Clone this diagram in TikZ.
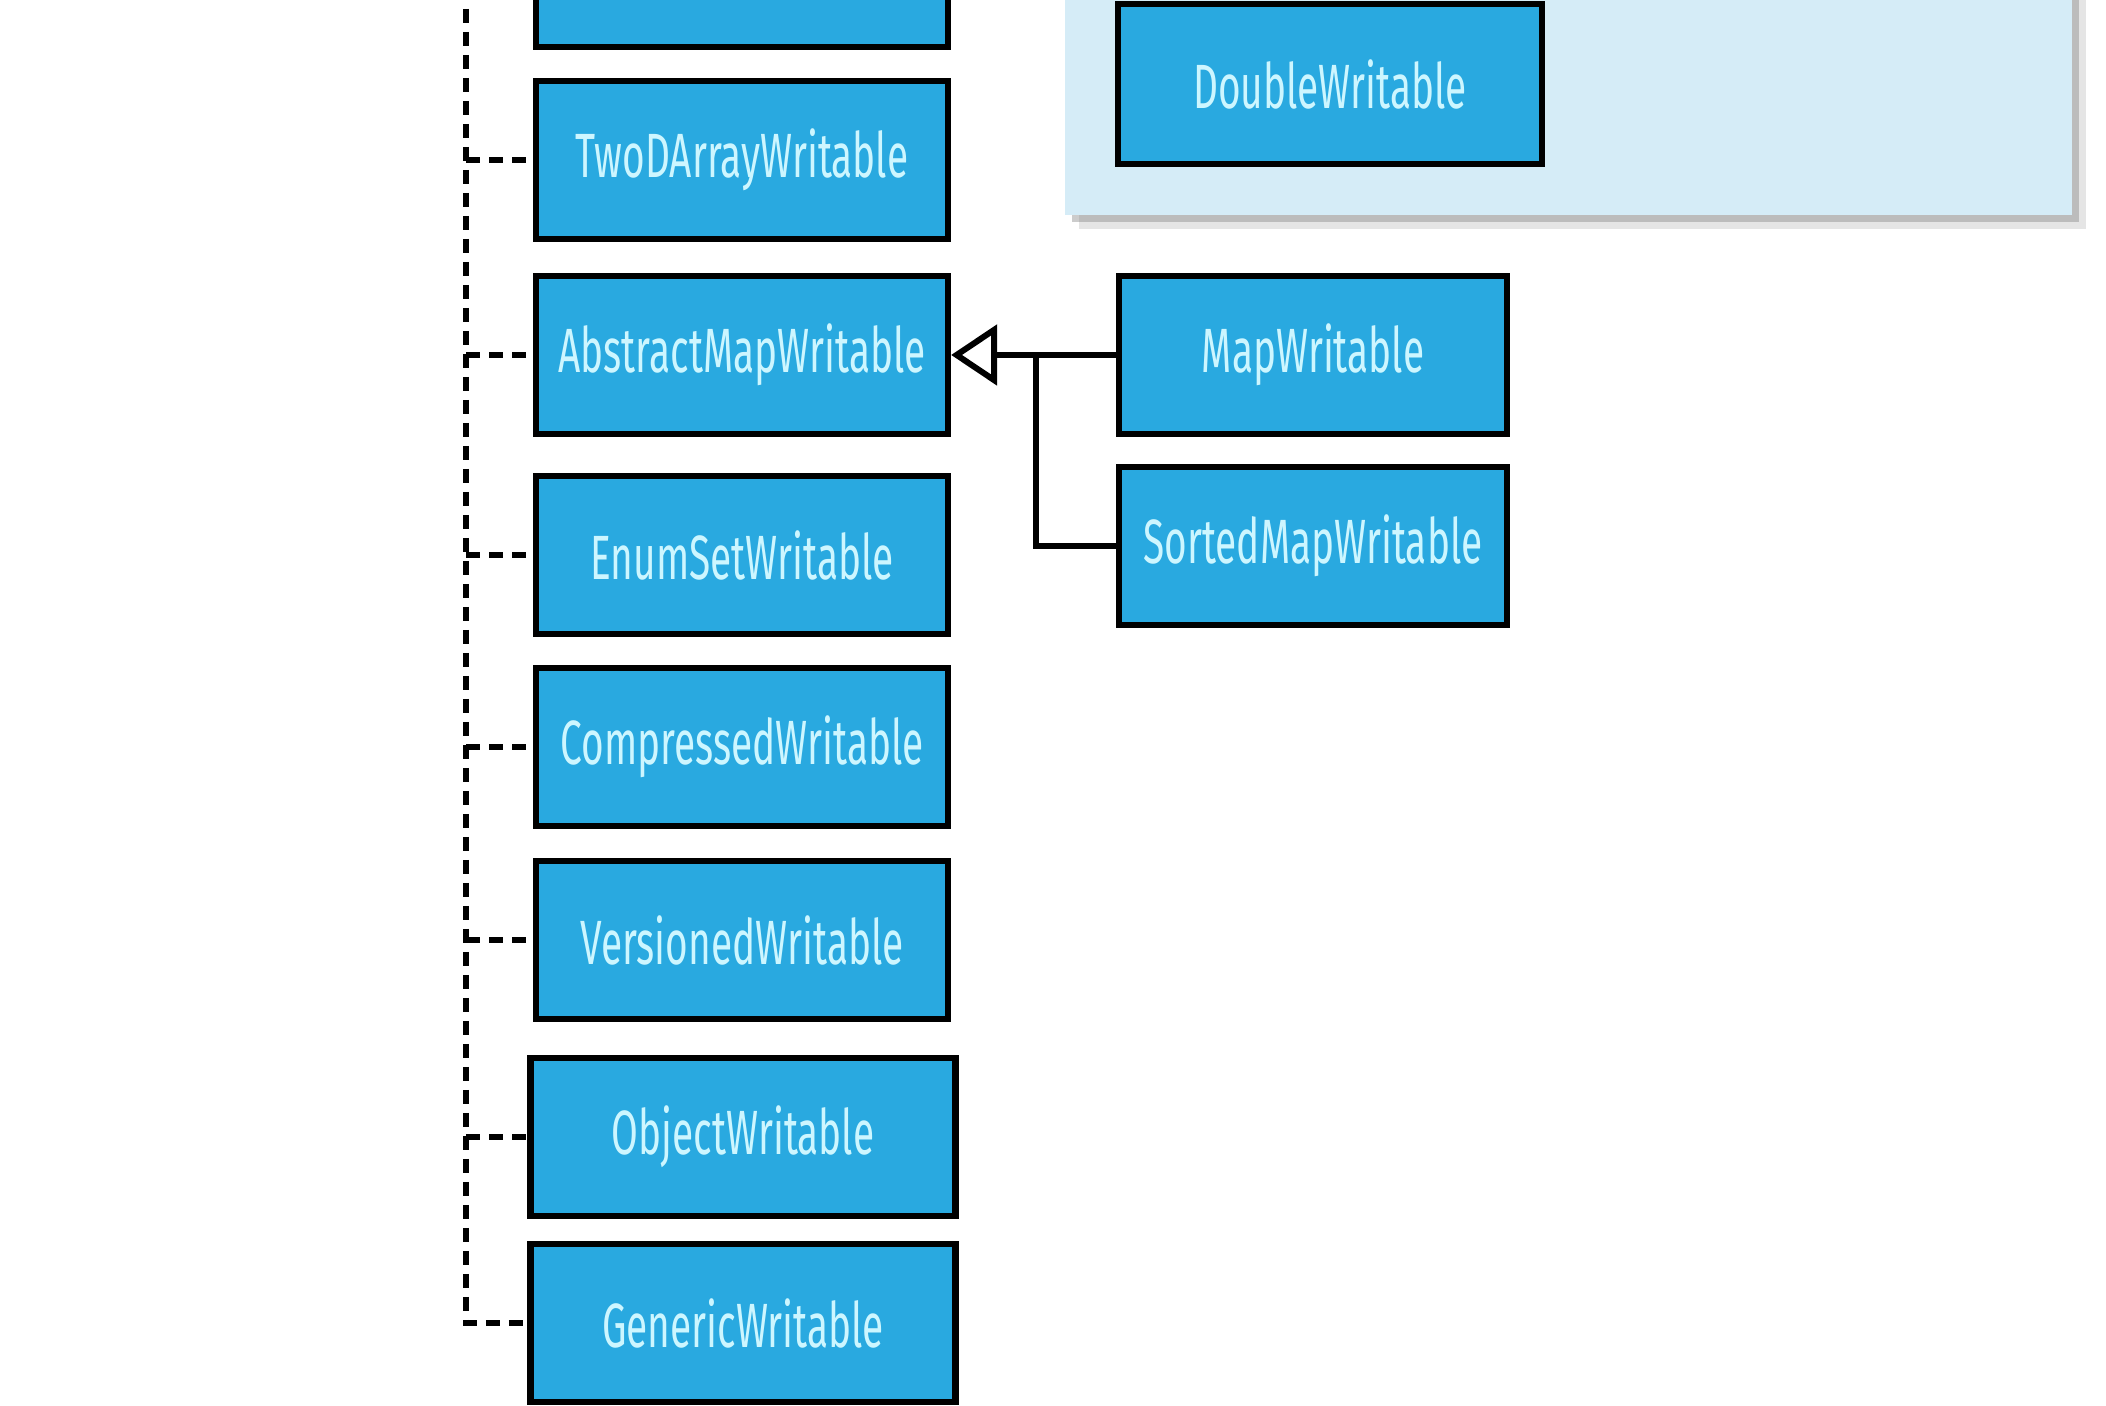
\documentclass[tikz,border=0pt]{standalone}
\usepackage{fontspec}
\newfontfamily\clsfont{Fira Sans}[FakeStretch=0.62]
\usepackage{tikz}
\usetikzlibrary{arrows.meta,shadows}
\definecolor{clsblue}{HTML}{29A9E0}
\definecolor{clstext}{HTML}{CDF6FF}
\definecolor{panelblue}{HTML}{D5ECF7}

\begin{document}
\begin{tikzpicture}
                [
                cls/.style={rectangle,draw=black,line width=1.8pt,fill=clsblue,text=clstext,
                  minimum width=4.12cm,minimum height=1.585cm,
                  font=\clsfont\fontsize{17.8}{19}\selectfont},
                impl/.style={line width=1.6pt,dash pattern=on 0.14cm off 0.09cm},
                edge/.style={line width=1.7pt},
                inherit/.style={edge,-{Triangle[open,length=0.46cm,width=0.6cm]}}
                ]
            \useasboundingbox (0,0) rectangle (21.06,14.06);
            \clip (0,0) rectangle (21.06,14.06);
            \fill[white] (0,0) rectangle (21.06,14.06);
            % panel
            \path[fill=panelblue,
              drop shadow={shadow xshift=0.14cm,shadow yshift=-0.14cm,opacity=0.2},
              drop shadow={shadow xshift=0.07cm,shadow yshift=-0.07cm,opacity=0.4}]
              (10.65,11.91) rectangle (20.72,14.5);
            \node[cls] (1) at (7.42,14.38) {};
            \node[cls] (2) at (7.42,12.46) {TwoDArrayWritable};
            \node[cls] (3) at (7.42,10.51) {AbstractMapWritable};
            \node[cls] (4) at (7.42,8.51) {EnumSetWritable};
            \node[cls] (5) at (7.42,6.59) {CompressedWritable};
            \node[cls] (6) at (7.42,4.66) {VersionedWritable};
            \node[cls,minimum width=4.25cm] (7) at (7.43,2.69) {ObjectWritable};
            \node[cls,minimum width=4.25cm] (8) at (7.43,0.83) {GenericWritable};
            \node[cls,minimum width=4.24cm,minimum height=1.6cm] (9) at (13.30,13.22) {DoubleWritable};
            \node[cls,minimum width=3.88cm] (10) at (13.13,10.51) {MapWritable};
            \node[cls,minimum width=3.88cm] (11) at (13.13,8.60) {SortedMapWritable};
            \coordinate (top) at (4.66,14.2);
            \coordinate (j) at (10.36,10.51);
            \draw[impl] (top) |- (8);
            \foreach \n in {2,...,7}
              \draw[impl] (\n.west -| top) -- (\n.west);
            \draw[inherit] (10) -- (3);
            \draw[edge] (11) -| (j);
            \end{tikzpicture}
\end{document}
